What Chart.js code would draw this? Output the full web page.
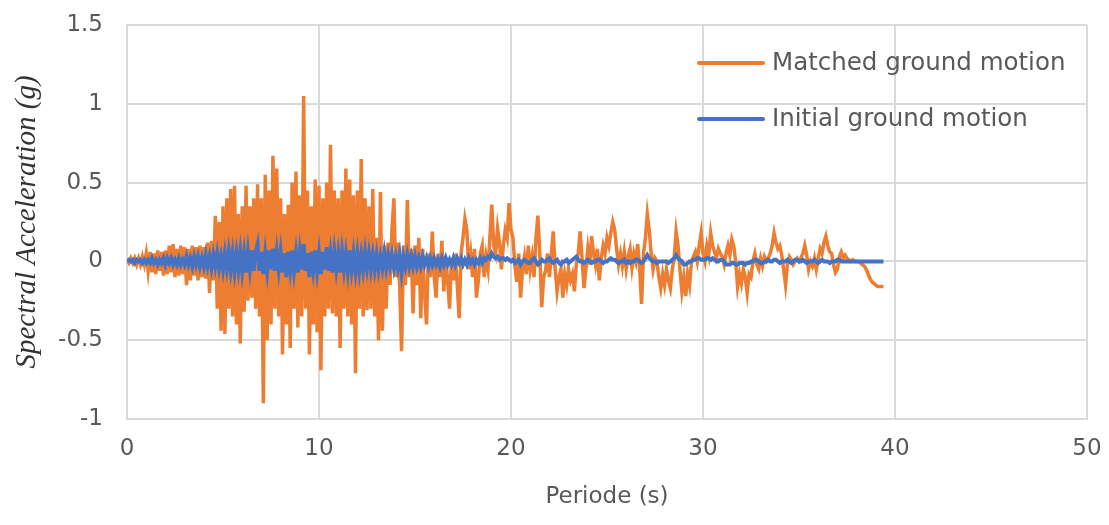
<!DOCTYPE html>
<html>
<head>
<meta charset="utf-8">
<script src="https://cdn.jsdelivr.net/npm/chart.js@4/dist/chart.umd.min.js"></script>
<style>
  html, body { margin: 0; padding: 0; background: #ffffff; }
  #c { display: block; }
</style>
</head>
<body>
<canvas id="c" width="1109" height="525"></canvas>
<script>
// ---- data ----
const seriesNames = ["Matched ground motion", "Initial ground motion"];
const xTickLabels = [0, 10, 20, 30, 40, 50];
const yTickLabels = [-1, -0.5, 0, 0.5, 1, 1.5];

// both series sampled every 0.1 s from 0 s
const sampleStep = 0.1;

// Matched ground motion (g)
const matchedValues = [
  0.01, -0.01, 0.02, -0.01, 0.02, -0.02, 0.02, -0.02, 0.03, -0.02,
  0.05, -0.06, 0.06, -0.07, 0.05, -0.08, 0.07, -0.06, 0.06, -0.09,
  0.07, -0.08, 0.10, -0.07, 0.11, -0.10, 0.08, -0.09, 0.10, -0.08,
  0.09, -0.15, 0.08, -0.12, 0.10, -0.09, 0.09, -0.12, 0.10, -0.10,
  0.09, -0.11, 0.12, -0.20, 0.13, -0.12, 0.29, -0.30, 0.25, -0.44,
  0.35, -0.46, 0.40, -0.30, 0.46, -0.35, 0.48, -0.40, 0.30, -0.52,
  0.35, -0.32, 0.48, -0.25, 0.35, -0.23, 0.40, -0.30, 0.49, -0.35,
  0.40, -0.90, 0.55, -0.50, 0.45, -0.40, 0.67, -0.30, 0.59, -0.35,
  0.40, -0.59, 0.30, -0.40, 0.36, -0.55, 0.50, -0.30, 0.57, -0.42,
  0.42, -0.35, 1.05, -0.30, 0.45, -0.59, 0.35, -0.40, 0.52, -0.45,
  0.48, -0.69, 0.40, -0.35, 0.50, -0.30, 0.74, -0.33, 0.45, -0.35,
  0.40, -0.55, 0.45, -0.30, 0.59, -0.35, 0.52, -0.40, 0.42, -0.71,
  0.45, -0.30, 0.65, -0.35, 0.40, -0.31, 0.35, -0.30, 0.46, -0.35,
  0.15, -0.50, 0.44, -0.44, 0.10, -0.30, 0.12, -0.15, 0.20, 0.40,
  -0.10, 0.12, -0.15, -0.57, 0.10, -0.15, 0.39, -0.10, 0.08, -0.33,
  0.10, -0.15, 0.15, -0.36, 0.08, -0.20, -0.40, 0.05, -0.10, 0.19,
  -0.10, -0.23, 0.05, -0.10, 0.13, -0.19, 0.03, -0.12, -0.30, 0.02,
  -0.12, 0.05, -0.15, -0.36, 0.05, 0.15, 0.27, 0.20, -0.05, 0.05,
  -0.10, 0.08, -0.23, -0.12, 0.05, 0.10, -0.10, 0.03, -0.05, 0.15,
  0.36, 0.10, 0.05, 0.21, 0.12, -0.05, 0.10, 0.20, 0.15, 0.37,
  0.20, 0.15, -0.02, -0.13, 0.05, -0.23, -0.05, 0.03, -0.08, 0.10,
  -0.05, 0.03, -0.10, 0.15, 0.29, 0.05, -0.29, -0.10, -0.06, 0.05,
  -0.10, 0.05, 0.19, -0.05, -0.19, -0.10, -0.05, -0.23, -0.08, -0.15,
  -0.05, -0.12, -0.08, -0.19, -0.02, 0.05, 0.19, 0.02, -0.17, -0.05,
  0.08, -0.02, 0.16, 0.05, -0.02, 0.08, -0.12, 0.02, 0.10, 0.05,
  0.15, 0.10, 0.18, 0.25, 0.20, 0.08, -0.02, 0.05, -0.03, 0.06,
  -0.05, 0.03, 0.08, -0.04, 0.05, 0.00, 0.11, -0.05, -0.27, 0.05,
  0.15, 0.30, 0.20, 0.05, -0.05, 0.02, 0.00, -0.10, -0.17, -0.08,
  -0.15, -0.05, -0.12, -0.17, -0.05, 0.02, 0.19, 0.10, -0.05, -0.19,
  -0.10, -0.22, -0.08, -0.15, 0.00, 0.03, 0.06, 0.00, 0.10, 0.18,
  0.05, 0.00, 0.10, 0.04, 0.18, 0.10, 0.06, 0.02, 0.08, 0.05,
  0.03, -0.02, 0.05, 0.10, 0.04, 0.14, 0.10, 0.00, -0.16, -0.08,
  -0.14, -0.05, -0.10, -0.20, -0.08, -0.10, 0.00, 0.05, -0.02, -0.05,
  0.02, -0.03, 0.03, 0.00, 0.02, 0.05, 0.10, 0.18, 0.12, 0.08,
  0.10, 0.04, -0.05, -0.15, -0.02, 0.03, 0.01, -0.02, 0.00, 0.02,
  0.00, 0.02, 0.05, 0.10, 0.04, -0.05, 0.00, -0.03, 0.02, -0.05,
  0.02, 0.08, 0.05, 0.12, 0.16, 0.10, 0.06, 0.05, -0.02, -0.07,
  -0.05, 0.03, 0.06, 0.02, 0.04, 0.02, 0.01, 0.00, 0.01, 0.00,
  0.00, 0.00, -0.01, -0.02, -0.03, -0.05, -0.08, -0.11, -0.13, -0.14,
  -0.15, -0.16, -0.16, -0.16, -0.16
];

// Initial ground motion (g)
const initialValues = [
  0, 0.01, 0, 0.01, -0.01, 0.01, 0, 0.01, -0.01, 0.01,
  -0.01, 0.01, -0.01, 0.02, -0.01, 0.01, -0.02, 0.01, -0.01, 0.02,
  -0.02, 0.02, -0.01, 0.02, -0.02, 0.01, -0.02, 0.02, -0.02, 0.01,
  -0.02, 0.03, -0.02, 0.02, -0.03, 0.03, -0.02, 0.03, -0.03, 0.02,
  -0.03, 0.04, -0.03, 0.03, -0.04, 0.04, -0.03, 0.05, -0.04, 0.03,
  -0.05, 0.05, -0.04, 0.06, -0.05, 0.05, -0.06, 0.05, -0.05, 0.06,
  -0.06, 0.05, -0.07, 0.06, -0.05, 0.07, -0.06, 0.06, 0.11, -0.06,
  0.06, -0.08, 0.05, -0.06, 0.07, -0.05, 0.08, -0.06, 0.06, -0.05,
  0.06, -0.07, 0.05, -0.10, 0.06, -0.05, 0.07, -0.06, 0.05, -0.07,
  0.06, -0.05, 0.11, -0.06, 0.05, -0.10, 0.06, -0.05, 0.07, -0.06,
  0.05, -0.08, 0.06, -0.05, 0.09, -0.06, 0.05, -0.07, 0.06, -0.05,
  0.05, -0.07, 0.06, -0.05, 0.05, -0.06, 0.07, -0.05, 0.05, -0.06,
  0.05, -0.06, 0.04, -0.05, 0.06, -0.04, 0.05, -0.05, 0.04, -0.05,
  0.04, -0.05, 0.03, -0.04, 0.05, -0.04, 0.04, -0.03, 0.04, -0.04,
  0.03, -0.04, 0.04, -0.07, 0.03, -0.03, 0.04, -0.03, 0.03, -0.03,
  0.03, -0.03, 0.02, -0.03, 0.03, -0.02, 0.02, -0.03, 0.02, -0.02,
  0.02, -0.02, 0.01, -0.03, 0.02, -0.02, 0.02, -0.02, 0.01, -0.02,
  0.02, -0.02, 0.02, -0.01, 0.02, -0.02, 0.01, -0.02, 0.02, -0.01,
  0.01, -0.02, 0.01, -0.01, 0.02, -0.01, 0.02, 0.01, 0.03, 0.02,
  0.05, 0.03, 0.02, 0.03, 0.01, 0.02, 0.02, 0.01, 0.02, 0.01,
  0.00, 0.01, -0.01, 0.00, 0.01, -0.02, 0.00, 0.01, 0.00, -0.01,
  -0.01, 0.01, 0.02, 0.00, -0.02, -0.01, 0.01, 0.00, 0.00, 0.01,
  0.02, 0.00, -0.01, 0.00, 0.01, -0.01, -0.02, 0.00, 0.00, 0.01,
  -0.01, 0.00, 0.01, 0.02, 0.03, 0.01, 0.00, 0.00, -0.01, 0.00,
  0.01, 0.00, -0.01, 0.00, 0.00, 0.01, 0.01, 0.00, -0.01, 0.00,
  0.00, 0.01, 0.02, 0.01, 0.01, 0.00, -0.01, 0.00, 0.00, 0.01,
  -0.01, 0.00, -0.01, 0.00, 0.00, 0.01, 0.01, 0.00, -0.01, 0.00,
  0.02, 0.04, 0.02, 0.01, 0.00, 0.00, -0.01, 0.00, 0.00, 0.00,
  0.00, 0.00, -0.01, 0.00, 0.01, 0.02, 0.04, 0.02, 0.01, 0.00,
  -0.02, -0.02, -0.01, 0.00, 0.00, 0.01, 0.01, 0.02, 0.02, 0.01,
  0.01, 0.01, 0.02, 0.02, 0.01, 0.02, 0.01, 0.00, 0.00, 0.01,
  0.01, 0.00, -0.02, -0.02, -0.02, -0.01, -0.01, -0.02, -0.02, -0.01,
  -0.01, -0.01, -0.02, -0.01, -0.01, 0.00, 0.00, 0.01, 0.01, 0.00,
  -0.01, -0.01, 0.00, 0.00, 0.01, 0.00, 0.00, 0.01, 0.01, 0.00,
  -0.01, 0.00, 0.00, 0.00, 0.01, 0.00, -0.01, 0.00, 0.01, 0.01,
  0.00, 0.00, 0.01, 0.00, -0.01, 0.00, 0.00, 0.00, 0.01, 0.00,
  -0.01, 0.00, 0.01, 0.00, 0.00, 0.00, -0.01, 0.00, 0.00, 0.00,
  0.01, 0.01, 0.00, 0.00, 0.00, 0.00, 0.00, 0.00, 0.00, 0.00,
  0.00, 0.00, 0.00, 0.00, 0.00, 0.00, 0.00, 0.00, 0.00, 0.00,
  0.00, 0.00, 0.00, 0.00, 0.00
];

// ---- build library data ----
const toPoints = (vals, step) => vals.map((v, i) => ({ x: +(i * step).toFixed(2), y: v }));

const colors = { matched: '#ED7D31', initial: '#4472C4' };
const tickColor = '#595959';
const gridColor = '#D9D9D9';

// legend drawn inside the plot area, as in the reference
const insideLegend = {
  id: 'insideLegend',
  afterDraw(chart) {
    const ctx = chart.ctx;
    const items = [
      { label: seriesNames[0], color: colors.matched, y: 63 },
      { label: seriesNames[1], color: colors.initial, y: 119 }
    ];
    ctx.save();
    ctx.font = '24.5px "DejaVu Sans"';
    ctx.textBaseline = 'middle';
    ctx.textAlign = 'left';
    items.forEach(it => {
      ctx.strokeStyle = it.color;
      ctx.lineWidth = 4;
      ctx.lineCap = 'round';
      ctx.beginPath();
      ctx.moveTo(699, it.y);
      ctx.lineTo(763, it.y);
      ctx.stroke();
      ctx.fillStyle = tickColor;
      ctx.fillText(it.label, 772, it.y + 1);
    });
    ctx.restore();
  }
};

new Chart(document.getElementById('c'), {
  type: 'line',
  data: {
    datasets: [
      {
        label: seriesNames[1],
        data: toPoints(initialValues, sampleStep),
        borderColor: colors.initial,
        backgroundColor: colors.initial,
        borderWidth: 4,
        pointRadius: 0,
        tension: 0,
        order: 0
      },
      {
        label: seriesNames[0],
        data: toPoints(matchedValues, sampleStep),
        borderColor: colors.matched,
        backgroundColor: colors.matched,
        borderWidth: 3.5,
        pointRadius: 0,
        tension: 0,
        order: 1
      }
    ]
  },
  options: {
    responsive: false,
    animation: false,
    devicePixelRatio: 1,
    layout: { padding: { top: 25, right: 22, left: 0, bottom: 0 } },
    plugins: {
      legend: { display: false },
      tooltip: { enabled: false }
    },
    scales: {
      x: {
        type: 'linear',
        min: xTickLabels[0],
        max: xTickLabels[xTickLabels.length - 1],
        afterBuildTicks(scale) { scale.ticks = xTickLabels.map(v => ({ value: v })); },
        afterFit(scale) {
          scale.height = 106;
          scale.paddingLeft = 0;
          scale.paddingRight = 0;
        },
        grid: { color: gridColor, lineWidth: 2, drawTicks: false },
        border: { color: gridColor, width: 2 },
        ticks: {
          color: tickColor,
          font: { family: 'DejaVu Sans', size: 23 },
          padding: 16,
          maxRotation: 0,
          callback: v => String(v)
        },
        title: {
          display: true,
          text: 'Periode (s)',
          color: tickColor,
          font: { family: 'DejaVu Sans', size: 23 },
          padding: { top: 0, bottom: 14 }
        }
      },
      y: {
        type: 'linear',
        min: yTickLabels[0],
        max: yTickLabels[yTickLabels.length - 1],
        afterBuildTicks(scale) { scale.ticks = yTickLabels.map(v => ({ value: v })); },
        afterFit(scale) {
          scale.width = 127;
          scale.paddingTop = 0;
          scale.paddingBottom = 0;
        },
        grid: { color: gridColor, lineWidth: 2, drawTicks: false },
        border: { color: gridColor, width: 2 },
        ticks: {
          color: tickColor,
          font: { family: 'DejaVu Sans', size: 23 },
          padding: 24,
          callback: v => String(v)
        },
        title: {
          display: true,
          text: 'Spectral Acceleration (g)',
          color: '#333333',
          font: { family: 'Liberation Serif', size: 29, style: 'italic' },
          padding: { top: 10, bottom: 0 }
        }
      }
    }
  },
  plugins: [insideLegend]
});
</script>
</body>
</html>
